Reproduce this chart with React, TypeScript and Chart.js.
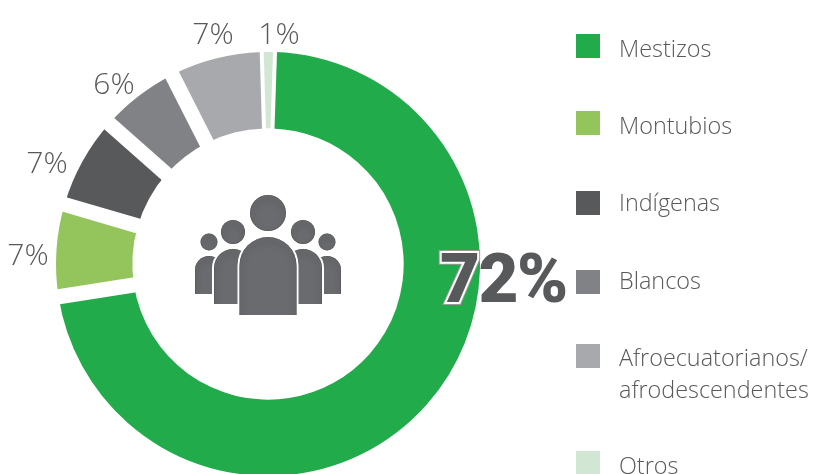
import React, { useEffect, useRef } from "react";
import { Chart, registerables } from "chart.js";

Chart.register(...registerables);

const categories = ["Mestizos", "Montubios", "Indígenas", "Blancos", "Afroecuatorianos/\nafrodescendentes", "Otros"];
const shares = [72, 7, 7, 6, 7, 1];
const percentLabels = ["72%", "7%", "7%", "6%", "7%", "1%"];
const colors = ["#22ab4a", "#94c55c", "#58595b", "#808285", "#a7a9ac", "#d2e7d3"];

// label anchors (centre x, baseline y)
const percentAnchors = [[0, 0], [28, 265], [47, 173], [114, 94], [213, 44], [279, 44]];
const legendSwatchY = [34, 111, 191, 270, 344, 451];
const legendTextY = [57, 134, 211, 289, 366, 474];
const gapWidths = [15, 15, 15, 15, 4, 4]; // gap after each slice

const textColor = "#58595b";
const lightFont = '"Open Sans", "Noto Sans", sans-serif';

function insetFill(ctx: CanvasRenderingContext2D, path: () => void) {
  ctx.save();
  ctx.fillStyle = "#6a6b6e";
  path();
  ctx.fill();
  path();
  ctx.clip();
  ctx.shadowColor = "rgba(0,0,0,0.7)";
  ctx.shadowBlur = 7;
  ctx.shadowOffsetY = 4;
  ctx.strokeStyle = "rgba(70,71,73,0.6)";
  ctx.lineWidth = 1;
  path();
  ctx.stroke();
  ctx.restore();
}

function person(ctx: CanvasRenderingContext2D, cx: number, headY: number, headR: number, half: number, top: number, bottom: number, halo: number) {
  const body = () => {
    ctx.beginPath();
    ctx.moveTo(cx - half, bottom + 12);
    ctx.lineTo(cx - half, top + half);
    ctx.arc(cx, top + half, half, Math.PI, 0);
    ctx.lineTo(cx + half, bottom + 12);
    ctx.closePath();
  };
  if (halo > 0) {
    ctx.save();
    ctx.strokeStyle = "#ffffff";
    ctx.lineWidth = halo * 2;
    body();
    ctx.stroke();
    ctx.restore();
  }
  ctx.save();
  ctx.beginPath();
  ctx.rect(cx - half - 4, top - 4, half * 2 + 8, bottom - top + 4);
  ctx.clip();
  insetFill(ctx, body);
  ctx.restore();
  insetFill(ctx, () => {
    ctx.beginPath();
    ctx.arc(cx, headY, headR, 0, Math.PI * 2);
  });
}

const decorations = {
  id: "decorations",
  afterDatasetsDraw(chart: any) {
    const ctx: CanvasRenderingContext2D = chart.ctx;
    const arcs = chart.getDatasetMeta(0).data;
    ctx.save();
    // white dividers between slices
    arcs.forEach((arc: any, i: number) => {
      const a = arc.endAngle;
      ctx.strokeStyle = "#ffffff";
      ctx.lineWidth = gapWidths[i];
      ctx.beginPath();
      ctx.moveTo(arc.x + Math.cos(a) * (arc.innerRadius - 3), arc.y + Math.sin(a) * (arc.innerRadius - 3));
      ctx.lineTo(arc.x + Math.cos(a) * (arc.outerRadius + 3), arc.y + Math.sin(a) * (arc.outerRadius + 3));
      ctx.stroke();
    });
    // people icon
    const cx = arcs[0].x;
    person(ctx, cx - 59, 242, 8.5, 14, 256, 294, 0);
    person(ctx, cx + 59, 242, 8.5, 14, 256, 294, 0);
    person(ctx, cx - 35, 232, 12, 19, 249, 304, 2);
    person(ctx, cx + 35, 232, 12, 19, 249, 304, 2);
    person(ctx, cx, 213, 18, 28.5, 237, 315, 2);
    // percent labels
    ctx.textBaseline = "alphabetic";
    ctx.textAlign = "center";
    ctx.fillStyle = textColor;
    ctx.font = `300 30px ${lightFont}`;
    percentLabels.forEach((t, i) => {
      if (i === 0) return;
      ctx.fillText(t, percentAnchors[i][0], percentAnchors[i][1]);
    });
    // big label: the first glyph carries a keyline where it overlaps the ring
    ctx.textAlign = "left";
    ctx.font = "900 69px Roboto, sans-serif";
    (ctx as any).letterSpacing = "-1.5px";
    ctx.lineJoin = "miter";
    const big = percentLabels[0];
    const first = big.slice(0, 1);
    const rest = big.slice(1);
    ctx.strokeStyle = "#9a9b9d";
    ctx.lineWidth = 6;
    ctx.strokeText(first, 440, 302);
    ctx.strokeStyle = "#ffffff";
    ctx.lineWidth = 4;
    ctx.strokeText(first, 440, 302);
    ctx.fillStyle = textColor;
    ctx.fillText(first, 440, 302);
    ctx.fillText(rest, 440 + ctx.measureText(first).width, 302);
    (ctx as any).letterSpacing = "0px";
    // legend
    ctx.font = `300 23.4px ${lightFont}`;
    categories.forEach((c, i) => {
      ctx.fillStyle = colors[i];
      ctx.fillRect(576, legendSwatchY[i], 24, 24);
      ctx.fillStyle = textColor;
      c.split("\n").forEach((line, k) => ctx.fillText(line, 619, legendTextY[i] + k * 32));
    });
    ctx.restore();
  },
};

export default function App() {
  const ref = useRef<HTMLCanvasElement>(null);
  useEffect(() => {
    const chart = new Chart(ref.current!, {
      type: "doughnut",
      data: {
        labels: categories,
        datasets: [{ data: shares, backgroundColor: colors, borderWidth: 0 }],
      },
      options: {
        responsive: false,
        animation: false,
        rotation: 1.9,
        cutout: "64%",
        radius: 212,
        layout: { padding: { left: 0, right: 278, top: 0, bottom: 0 } },
        plugins: { legend: { display: false }, tooltip: { enabled: false } },
      } as any,
      plugins: [decorations],
    });
    return () => chart.destroy();
  }, []);
  return (
    <div style={{ position: "fixed", left: 0, top: 0, width: 814, height: 474, overflow: "hidden", background: "#fff" }}>
      <canvas ref={ref} width={814} height={528} style={{ display: "block" }} />
    </div>
  );
}
